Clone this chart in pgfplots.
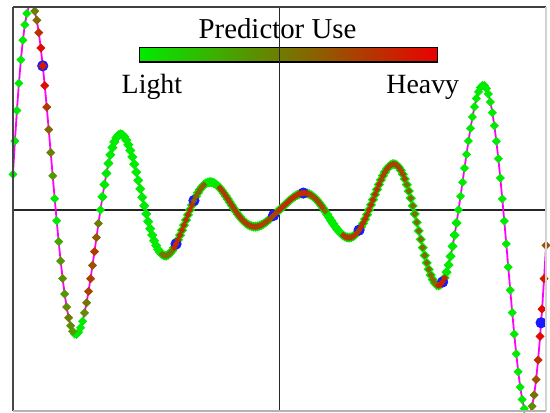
\documentclass[border=0pt]{standalone}
\usepackage{fontspec}
\setmainfont{Liberation Serif}
\usepackage{pgfplots}
\usepackage{pgfplotstable}
\pgfplotsset{compat=1.18}

\definecolor{lgreen}{RGB}{0,235,0}
\definecolor{hred}{RGB}{235,0,0}
\definecolor{olv}{RGB}{125,120,0}
\definecolor{mag}{RGB}{255,0,255}
\definecolor{bl}{RGB}{25,25,255}

% d = position, y = value, g = drawn light (1/0), c = predictor use (-1 = none)
\pgfplotstableread{
d y g c
-268 35.72 1 -1
-266 69.17 1 -1
-264 99.82 1 -1
-262 127.20 1 -1
-260 150.90 1 -1
-258 170.61 1 -1
-256 186.14 1 -1
-254 197.37 1 -1
-252 204.26 1 -1
-250 206.84 1 -1
-248 205.29 1 0.35
-246 199.78 0 0.45
-244 190.63 0 0.55
-242 178.15 0 0.8
-240 162.73 0 0.95
-238 144.82 0 0.9
-236 124.86 0 0.95
-234 103.32 0 0.75
-232 80.71 0 0.55
-230 57.50 0 0.45
-228 34.18 0 0.35
-226 11.22 1 -1
-224 -10.98 1 -1
-222 -31.98 0 0.3
-220 -51.44 0 0.35
-218 -69.07 0 0.4
-216 -84.57 0 0.35
-214 -97.74 0 0.4
-212 -108.43 0 0.45
-210 -116.54 0 0.4
-208 -122.03 0 0.35
-206 -124.89 1 -1
-204 -125.19 1 -1
-202 -123.04 1 -1
-200 -118.57 1 -1
-198 -111.99 1 -1
-196 -103.50 0 0.4
-194 -93.37 0 0.5
-192 -81.85 0 0.7
-190 -69.24 0 0.75
-188 -55.82 0 0.65
-186 -41.90 0 0.75
-184 -27.77 0 0.6
-182 -13.72 0 0.45
-180 0 1 -1
-178 13.12 1 -1
-176 25.40 1 -1
-174 36.66 1 -1
-172 46.72 1 -1
-170 55.43 1 -1
-168 62.66 1 -1
-166 68.37 1 -1
-164 72.49 1 -1
-162 75.02 1 -1
-160 75.97 1 -1
-158 75.40 1 -1
-156 73.38 1 -1
-154 70.02 1 -1
-152 65.43 1 -1
-150 59.77 1 -1
-148 53.19 1 -1
-146 45.86 1 -1
-144 37.95 1 -1
-142 29.64 1 -1
-140 21.12 1 -1
-138 12.56 1 -1
-136 4.12 1 -1
-134 -4.03 1 -1
-132 -11.74 1 -1
-130 -18.89 1 -1
-128 -25.37 1 -1
-126 -31.06 1 -1
-124 -35.90 1 -1
-122 -39.82 1 -1
-120 -42.80 1 -1
-118 -44.82 1 0.5
-116 -45.87 1 0.5
-114 -45.98 1 0.5
-112 -45.19 1 0.5
-110 -43.55 1 0.5
-108 -41.13 1 0.5
-106 -38.02 1 0.8
-104 -34.29 1 0.8
-102 -30.06 1 0.8
-100 -25.43 1 0.8
-98 -20.50 1 0.8
-96 -15.39 1 0.8
-94 -10.20 1 0.8
-92 -5.04 1 0.8
-90 0 1 0.8
-88 4.82 1 0.8
-86 9.33 1 0.6
-84 13.47 1 0.6
-82 17.16 1 0.6
-80 20.36 1 0.6
-78 23.01 1 0.6
-76 25.11 1 0.6
-74 26.62 1 -1
-72 27.55 1 -1
-70 27.90 1 -1
-68 27.69 1 -1
-66 26.95 1 -1
-64 25.72 1 -1
-62 24.03 1 -1
-60 21.95 1 0.75
-58 19.54 1 0.75
-56 16.84 1 0.75
-54 13.94 1 0.75
-52 10.89 1 0.75
-50 7.76 1 0.75
-48 4.61 1 0.75
-46 1.51 1 0.75
-44 -1.48 1 0.75
-42 -4.31 1 0.75
-40 -6.94 1 0.75
-38 -9.32 1 0.75
-36 -11.41 1 0.75
-34 -13.19 1 0.75
-32 -14.63 1 0.75
-30 -15.72 1 0.75
-28 -16.46 1 0.75
-26 -16.85 1 0.75
-24 -16.89 1 0.75
-22 -16.60 1 0.75
-20 -15.99 1 0.75
-18 -15.11 1 0.7
-16 -13.96 1 0.7
-14 -12.59 1 0.7
-12 -11.04 1 0.7
-10 -9.34 1 0.7
-8 -7.53 1 0.7
-6 -5.65 1 0.7
-4 -3.75 1 0.7
-2 -1.85 1 0.7
0 0 1 0.8
2 1.85 1 0.8
4 3.75 1 0.8
6 5.65 1 0.8
8 7.53 1 0.8
10 9.34 1 0.8
12 11.04 1 0.8
14 12.59 1 0.8
16 13.96 1 0.8
18 15.11 1 0.8
20 15.99 1 0.8
22 16.60 1 0.8
24 16.89 1 0.8
26 16.85 1 0.8
28 16.46 1 0.8
30 15.72 1 0.8
32 14.63 1 0.7
34 13.19 1 0.7
36 11.41 1 0.7
38 9.32 1 0.7
40 6.94 1 0.7
42 4.31 1 0.7
44 1.48 1 0.7
46 -1.51 1 0.5
48 -4.61 1 -1
50 -7.76 1 -1
52 -10.89 1 -1
54 -13.94 1 -1
56 -16.84 1 -1
58 -19.54 1 -1
60 -21.95 1 -1
62 -24.03 1 -1
64 -25.72 1 0.75
66 -26.95 1 0.75
68 -27.69 1 0.75
70 -27.90 1 0.75
72 -27.55 1 0.75
74 -26.62 1 0.75
76 -25.11 1 0.75
78 -23.01 1 0.75
80 -20.36 1 0.75
82 -17.16 1 0.8
84 -13.47 1 0.8
86 -9.33 1 0.8
88 -4.82 1 0.8
90 0 1 0.8
92 5.04 1 0.8
94 10.20 1 0.8
96 15.39 1 0.8
98 20.50 1 0.8
100 25.43 1 0.8
102 30.06 1 0.7
104 34.29 1 0.7
106 38.02 1 0.7
108 41.13 1 0.7
110 43.55 1 0.7
112 45.19 1 0.7
114 45.98 1 0.7
116 45.87 1 0.7
118 44.82 1 0.7
120 42.80 1 0.7
122 39.82 1 0.7
124 35.90 1 0.7
126 31.06 1 0.7
128 25.37 1 0.55
130 18.89 1 0.55
132 11.74 1 0.55
134 4.03 1 0.55
136 -4.12 1 0.55
138 -12.56 1 0.55
140 -21.12 1 0.55
142 -29.64 1 0.55
144 -37.95 1 0.55
146 -45.86 1 0.55
148 -53.19 1 0.55
150 -59.77 1 0.55
152 -65.43 1 0.55
154 -70.02 1 0.55
156 -73.38 1 0.55
158 -75.40 1 0.55
160 -75.97 1 0.85
162 -75.02 1 0.85
164 -72.49 1 0.85
166 -68.37 1 0.85
168 -62.66 1 -1
170 -55.43 1 -1
172 -46.72 1 -1
174 -36.66 1 -1
176 -25.40 1 -1
178 -13.12 1 -1
180 0 1 -1
182 13.72 1 -1
184 27.77 1 -1
186 41.90 1 -1
188 55.82 1 -1
190 69.24 1 -1
192 81.85 1 -1
194 93.37 1 -1
196 103.50 1 -1
198 111.99 1 -1
200 118.57 1 -1
202 123.04 1 -1
204 125.19 1 -1
206 124.89 1 -1
208 122.03 1 -1
210 116.54 1 -1
212 108.43 1 -1
214 97.74 1 -1
216 84.57 1 -1
218 69.07 1 -1
220 51.44 1 -1
222 31.98 1 -1
224 10.98 1 -1
226 -11.22 1 -1
228 -34.18 1 -1
230 -57.50 1 -1
232 -80.71 1 -1
234 -103.32 1 -1
236 -124.86 1 -1
238 -144.82 1 -1
240 -162.73 1 -1
242 -178.15 1 -1
244 -190.63 1 -1
246 -199.78 1 -1
248 -205.29 1 -1
250 -206.84 1 -1
252 -204.26 1 -1
254 -197.37 0 0.4
256 -186.14 0 0.5
258 -170.61 0 0.65
260 -150.90 0 0.8
262 -127.20 0 0.95
264 -99.82 0 0.95
266 -69.17 0 0.9
268 -35.72 0 0.65
}\curve

\pgfplotstableread{
d y
-238 144.82
-104 -34.29
-86 9.33
-6 -5.65
24 16.89
80 -20.36
164 -72.49
263 -113.5
}\blue

\begin{document}
\begin{tikzpicture}
\begin{axis}[
    scale only axis,
    width=268bp, height=203bp,
    xmin=-268, xmax=268,
    ymin=-202, ymax=204,
    axis line style={draw=none},
    xtick=\empty, ytick=\empty,
    colormap={pu}{rgb255=(0,235,0) rgb255=(235,0,0)},
    point meta min=0, point meta max=1,
  ]
  % legend bar
  \shade[left color=lgreen, middle color=olv, right color=hred]
    (axis cs:-141,148.5) rectangle (axis cs:159,163.5);
  \draw[black, line width=0.7bp] (axis cs:-141,148.5) rectangle (axis cs:159,163.5);
  \node[anchor=base, inner sep=0pt, font=\fontsize{14.5bp}{16bp}\selectfont]
    at (axis cs:-2,172) {Predictor Use};
  \node[anchor=base west, inner sep=0pt, font=\fontsize{14bp}{16bp}\selectfont]
    at (axis cs:-159,117) {Light};
  \node[anchor=base east, inner sep=0pt, font=\fontsize{14bp}{16bp}\selectfont]
    at (axis cs:181,117) {Heavy};
  % zero lines
  \draw[black!85, line width=0.9bp] (axis cs:-268,0) -- (axis cs:268,0);
  \draw[black!85, line width=0.9bp] (axis cs:0,-202) -- (axis cs:0,204);

  % light use: wide in the middle band, smaller on the outer swings
  \addplot[only marks, mark=square*, mark size=1.6bp,
    mark options={rotate=45, draw=lgreen, fill=lgreen},
    restrict expr to domain={\thisrow{g}*(abs(\thisrow{d})<179)}{0.5:1.5}]
    table[x=d, y=y] {\curve};
  \addplot[only marks, mark=square*, mark size=1.4bp,
    mark options={rotate=45, draw=lgreen, fill=lgreen},
    restrict expr to domain={\thisrow{g}*(abs(\thisrow{d})>178)}{0.5:1.5}]
    table[x=d, y=y] {\curve};

  \addplot[only marks, mark=*, mark size=2.6bp, bl] table[x=d, y=y] {\blue};

  % heavier use on the outer swings
  \addplot[scatter, only marks, mark=square*, mark size=1.4bp,
    mark options={rotate=45},
    scatter/use mapped color={draw=mapped color, fill=mapped color},
    point meta=\thisrow{c},
    restrict expr to domain={\thisrow{c}-2*\thisrow{g}}{0:1}]
    table[x=d, y=y] {\curve};
  % heavier use inside the band
  \addplot[scatter, only marks, mark=square*, mark size=1.0bp,
    mark options={rotate=45},
    scatter/use mapped color={draw=mapped color, fill=mapped color},
    point meta=\thisrow{c},
    restrict expr to domain={\thisrow{c}+2-2*\thisrow{g}}{0:1}]
    table[x=d, y=y] {\curve};

  \addplot[mag, line width=0.9bp, no marks] table[x=d, y=y] {\curve};

  \coordinate (sw) at (rel axis cs:0,0);
  \coordinate (ne) at (rel axis cs:1,1);
\end{axis}
\draw[gray!55!black, line width=1.2bp] (sw) -- (sw|-ne);
\draw[black!75, line width=1.2bp] (sw|-ne) -- (ne);
\draw[gray!35, line width=0.6bp] (ne) -- (ne|-sw);
\draw[gray!60, line width=0.8bp] (sw) -- (ne|-sw);
\path ([xshift=-6.5bp, yshift=-0.5bp]sw) rectangle ([xshift=0.5bp, yshift=3.5bp]ne);
\end{tikzpicture}
\end{document}
